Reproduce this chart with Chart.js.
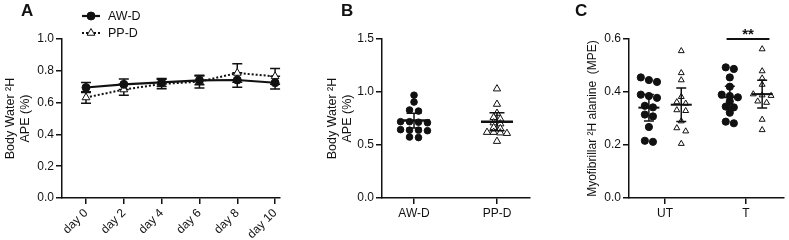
<!DOCTYPE html>
<html><head><meta charset="utf-8">
<script src="https://cdn.jsdelivr.net/npm/chart.js@4.4.1/dist/chart.umd.min.js"></script>
<style>
html,body{margin:0;padding:0;background:#fff;width:789px;height:240px;overflow:hidden}
canvas{position:absolute;top:0}
</style></head><body>
<canvas id="cA" width="318" height="240" style="left:0;width:318px;height:240px"></canvas>
<canvas id="cB" width="242" height="240" style="left:318px;width:242px;height:240px"></canvas>
<canvas id="cC" width="229" height="240" style="left:560px;width:229px;height:240px"></canvas>
<script>
// ---------- DATA ----------
// Panel A
const days = ['day 0','day 2','day 4','day 6','day 8','day 10'];
const awMean = [0.695, 0.715, 0.727, 0.740, 0.742, 0.725];
const awErr  = [0.032, 0.033, 0.025, 0.028, 0.045, 0.040];
const ppMean = [0.632, 0.682, 0.717, 0.732, 0.786, 0.765];
const ppErr  = [0.036, 0.035, 0.030, 0.040, 0.058, 0.050];
// Panel B
const groupsB = ['AW-D', 'PP-D'];
const bAW = [0.97, 0.905, 0.83, 0.82, 0.72, 0.715, 0.72, 0.71, 0.645, 0.64, 0.635, 0.64, 0.57, 0.575];
const bPP = [1.03, 0.885, 0.80, 0.76, 0.745, 0.71, 0.70, 0.665, 0.655, 0.62, 0.615, 0.62, 0.61, 0.535];
const bMean = [0.73, 0.72];
const bErr  = [0.07, 0.085];
// Panel C
const groupsC = ['UT', 'T'];
const cUTcirc = [0.455, 0.445, 0.438, 0.39, 0.385, 0.378, 0.348, 0.342, 0.315, 0.308, 0.268, 0.216, 0.212];
const cUTtri  = [0.555, 0.472, 0.445, 0.382, 0.362, 0.357, 0.332, 0.329, 0.29, 0.264, 0.252, 0.205];
const cTcirc  = [0.493, 0.487, 0.455, 0.42, 0.39, 0.385, 0.38, 0.365, 0.345, 0.342, 0.322, 0.288, 0.282];
const cTtri   = [0.562, 0.479, 0.452, 0.428, 0.392, 0.388, 0.386, 0.365, 0.36, 0.296, 0.257];
const cMean = [0.341, 0.352, 0.380, 0.392];
const cErr  = [0.050, 0.063, 0.042, 0.052];
const sigLabel = '**';

// ---------- SETUP ----------
const INK = '#111';
Chart.defaults.font.family = '"Liberation Sans", Arial, sans-serif';
Chart.defaults.font.size = 12;
Chart.defaults.color = INK;
Chart.defaults.animation = false;
Chart.defaults.plugins.legend.display = false;
Chart.defaults.plugins.tooltip.enabled = false;
Chart.defaults.responsive = false;
Chart.defaults.devicePixelRatio = 1;

function swarm(values, center, tol, step) {
  const idx = values.map((v, i) => i).sort((a, b) => values[b] - values[a]);
  const rows = [];
  for (const i of idx) {
    const r = rows[rows.length - 1];
    if (r && Math.abs(values[r[0]] - values[i]) <= tol) r.push(i); else rows.push([i]);
  }
  const pts = [];
  rows.forEach(r => r.forEach((i, k) => pts.push({x: center + (k - (r.length - 1) / 2) * step, y: values[i]})));
  return pts;
}

const gridOpt = {display: true, drawOnChartArea: false, drawTicks: true, tickLength: 6, color: INK, lineWidth: 1.5};
const borderOpt = {display: true, color: INK, width: 1.5};

function yAxis(max, step, width, title, pad, tsize) {
  return {
    type: 'linear', min: 0, max: max,
    afterBuildTicks: s => { const t = []; for (let v = 0; v <= max + 1e-9; v += step) t.push({value: Math.round(v * 1000) / 1000}); s.ticks = t; },
    ticks: {padding: 2, callback: v => Number(v).toFixed(1), font: {size: 12}, color: INK},
    grid: gridOpt, border: borderOpt,
    title: {display: true, text: title, color: INK, font: {size: tsize, lineHeight: '15px'}, padding: {top: pad, bottom: 0}},
    afterFit: s => { s.width = width; }
  };
}
function xAxis(min, max, labels, height, rot) {
  return {
    type: 'linear', min: min, max: max,
    afterBuildTicks: s => { s.ticks = labels.map((l, i) => ({value: i})); },
    ticks: {autoSkip: false, minRotation: rot, maxRotation: rot, padding: 2, font: {size: 12}, color: INK,
            callback: (v, i) => labels[i]},
    grid: gridOpt, border: borderOpt,
    afterFit: s => { s.height = height; }
  };
}

const errPlugin = {
  id: 'errbars',
  draw(chart, o) {
    const {ctx} = chart, xs = chart.scales.x, ys = chart.scales.y;
    ctx.save(); ctx.strokeStyle = INK; ctx.lineCap = 'butt';
    for (const b of o.bars) {
      const px = xs.getPixelForValue(b.x);
      const top = ys.getPixelForValue(b.mean + b.err), bot = ys.getPixelForValue(b.mean - b.err), mid = ys.getPixelForValue(b.mean);
      ctx.lineWidth = o.lw;
      ctx.beginPath();
      ctx.moveTo(px, top); ctx.lineTo(px, bot);
      ctx.moveTo(px - o.cap, top); ctx.lineTo(px + o.cap, top);
      ctx.moveTo(px - o.cap, bot); ctx.lineTo(px + o.cap, bot);
      ctx.stroke();
      if (o.meanHalf) {
        ctx.lineWidth = o.meanLw;
        ctx.beginPath(); ctx.moveTo(px - o.meanHalf, mid); ctx.lineTo(px + o.meanHalf, mid); ctx.stroke();
      }
    }
    ctx.restore();
  },
  beforeDatasetsDraw(chart, args, o) { if (o.before) this.draw(chart, o); },
  afterDatasetsDraw(chart, args, o) { if (!o.before) this.draw(chart, o); }
};

const letterPlugin = {
  id: 'letter',
  afterDraw(chart, args, o) {
    const {ctx} = chart;
    ctx.save(); ctx.fillStyle = INK; ctx.font = 'bold 17px "Liberation Sans", Arial, sans-serif';
    ctx.textBaseline = 'top'; ctx.textAlign = 'left';
    ctx.fillText(o.text, o.x, o.y);
    ctx.restore();
  }
};

const legendPlugin = {
  id: 'lineLegend',
  afterDraw(chart, args, o) {
    if (!o.items) return;
    const {ctx} = chart;
    chart.data.datasets.forEach((ds, i) => {
      const y = o.y + i * o.gap;
      ctx.save();
      ctx.strokeStyle = INK; ctx.lineWidth = ds.borderWidth; ctx.setLineDash(ds.borderDash || []);
      ctx.beginPath(); ctx.moveTo(o.x, y); ctx.lineTo(o.x + o.len, y); ctx.stroke();
      ctx.restore();
      ctx.save();
      ctx.fillStyle = ds.pointBackgroundColor; ctx.strokeStyle = ds.pointBorderColor; ctx.lineWidth = ds.pointBorderWidth;
      Chart.helpers.drawPoint(ctx, {pointStyle: ds.pointStyle, radius: ds.pointRadius, borderWidth: ds.pointBorderWidth, rotation: 0}, o.x + o.len / 2, y);
      ctx.fillStyle = INK; ctx.font = '12.5px "Liberation Sans", Arial, sans-serif';
      ctx.textBaseline = 'middle'; ctx.textAlign = 'left';
      ctx.fillText(ds.label, o.x + o.len + 8, y + 0.5);
      ctx.restore();
    });
  }
};

const sigPlugin = {
  id: 'sig',
  afterDraw(chart, args, o) {
    if (!o.text) return;
    const {ctx} = chart, xs = chart.scales.x, ys = chart.scales.y;
    const y = ys.getPixelForValue(o.y);
    const x1 = xs.getPixelForValue(o.x1), x2 = xs.getPixelForValue(o.x2);
    ctx.save(); ctx.strokeStyle = INK; ctx.lineWidth = 2;
    ctx.beginPath(); ctx.moveTo(x1, y); ctx.lineTo(x2, y); ctx.stroke();
    ctx.fillStyle = INK; ctx.font = 'bold 15px "Liberation Sans", Arial, sans-serif';
    ctx.textAlign = 'center'; ctx.textBaseline = 'alphabetic';
    ctx.fillText(o.text, (x1 + x2) / 2, y - 0.5);
    ctx.restore();
  }
};

// ---------- PANEL A ----------
const barsA = [];
awMean.forEach((m, i) => barsA.push({x: i, mean: m, err: awErr[i]}));
ppMean.forEach((m, i) => barsA.push({x: i, mean: m, err: ppErr[i]}));
new Chart(document.getElementById('cA'), {
  type: 'line',
  data: {datasets: [
    {label: 'AW-D', data: awMean.map((y, i) => ({x: i, y})), borderColor: INK, borderWidth: 2.2,
     pointStyle: 'circle', pointRadius: 4, pointBorderWidth: 1, pointBackgroundColor: INK, pointBorderColor: INK, tension: 0},
    {label: 'PP-D', data: ppMean.map((y, i) => ({x: i, y})), borderColor: INK, borderWidth: 2, borderDash: [2, 2],
     pointStyle: 'triangle', pointRadius: 4.5, pointBorderWidth: 1, pointBackgroundColor: '#fff', pointBorderColor: INK, tension: 0}
  ]},
  options: {
    layout: {padding: {left: 0, right: 38, top: 39, bottom: 0}},
    scales: {
      x: xAxis(-0.635, 5.13, days, 42, 45),
      y: yAxis(1.0, 0.2, 62, ['Body Water ²H', 'APE (%)'], 3.5, 12.5)
    },
    plugins: {
      errbars: {bars: barsA, cap: 5, lw: 1.5, before: true},
      letter: {text: 'A', x: 21, y: 3},
      lineLegend: {items: true, x: 82, y: 16, gap: 17, len: 18}
    }
  },
  plugins: [errPlugin, letterPlugin, legendPlugin]
});

// ---------- PANEL B ----------
new Chart(document.getElementById('cB'), {
  type: 'scatter',
  data: {datasets: [
    {data: swarm(bAW, 0, 0.03, 0.108), pointStyle: 'circle', pointRadius: 3.3, pointBackgroundColor: INK, pointBorderColor: INK, pointBorderWidth: 1},
    {data: swarm(bPP, 1, 0.03, 0.08), pointStyle: 'triangle', pointRadius: 4.2, pointBackgroundColor: '#fff', pointBorderColor: INK, pointBorderWidth: 1}
  ]},
  options: {
    layout: {padding: {left: 0, right: 30, top: 39, bottom: 0}},
    scales: {
      x: xAxis(-0.386, 1.398, groupsB, 42, 0),
      y: yAxis(1.5, 0.5, 64, ['Body Water ²H', 'APE (%)'], 7, 12.5)
    },
    plugins: {
      errbars: {bars: bMean.map((m, i) => ({x: i, mean: m, err: bErr[i]})), cap: 7.5, lw: 1.5, meanHalf: 16, meanLw: 2.5},
      letter: {text: 'B', x: 23, y: 3}
    }
  },
  plugins: [errPlugin, letterPlugin]
});

// ---------- PANEL C ----------
const cOff = [-0.2, 0.2, 0.8, 1.2];
new Chart(document.getElementById('cC'), {
  type: 'scatter',
  data: {datasets: [
    {data: swarm(cUTcirc, cOff[0], 0.018, 0.1), pointStyle: 'circle', pointRadius: 3.6, pointBackgroundColor: INK, pointBorderColor: INK, pointBorderWidth: 1},
    {data: swarm(cUTtri, cOff[1], 0.018, 0.11), pointStyle: 'triangle', pointRadius: 3.4, pointBackgroundColor: '#fff', pointBorderColor: INK, pointBorderWidth: 1},
    {data: swarm(cTcirc, cOff[2], 0.018, 0.1), pointStyle: 'circle', pointRadius: 3.6, pointBackgroundColor: INK, pointBorderColor: INK, pointBorderWidth: 1},
    {data: swarm(cTtri, cOff[3], 0.018, 0.11), pointStyle: 'triangle', pointRadius: 3.4, pointBackgroundColor: '#fff', pointBorderColor: INK, pointBorderWidth: 1}
  ]},
  options: {
    layout: {padding: {left: 0, right: 1, top: 39, bottom: 0}},
    scales: {
      x: xAxis(-0.446, 1.47, groupsC, 42, 0),
      y: yAxis(0.6, 0.2, 69, 'Myofibrillar ²H alanine  (MPE)', 25, 12)
    },
    plugins: {
      errbars: {bars: cMean.map((m, i) => ({x: cOff[i], mean: m, err: cErr[i]})), cap: 5, lw: 1.5, meanHalf: 10.5, meanLw: 2},
      letter: {text: 'C', x: 15, y: 3},
      sig: {text: sigLabel, x1: 0.76, x2: 1.29, y: 0.6}
    }
  },
  plugins: [errPlugin, letterPlugin, sigPlugin]
});
</script>
</body></html>
